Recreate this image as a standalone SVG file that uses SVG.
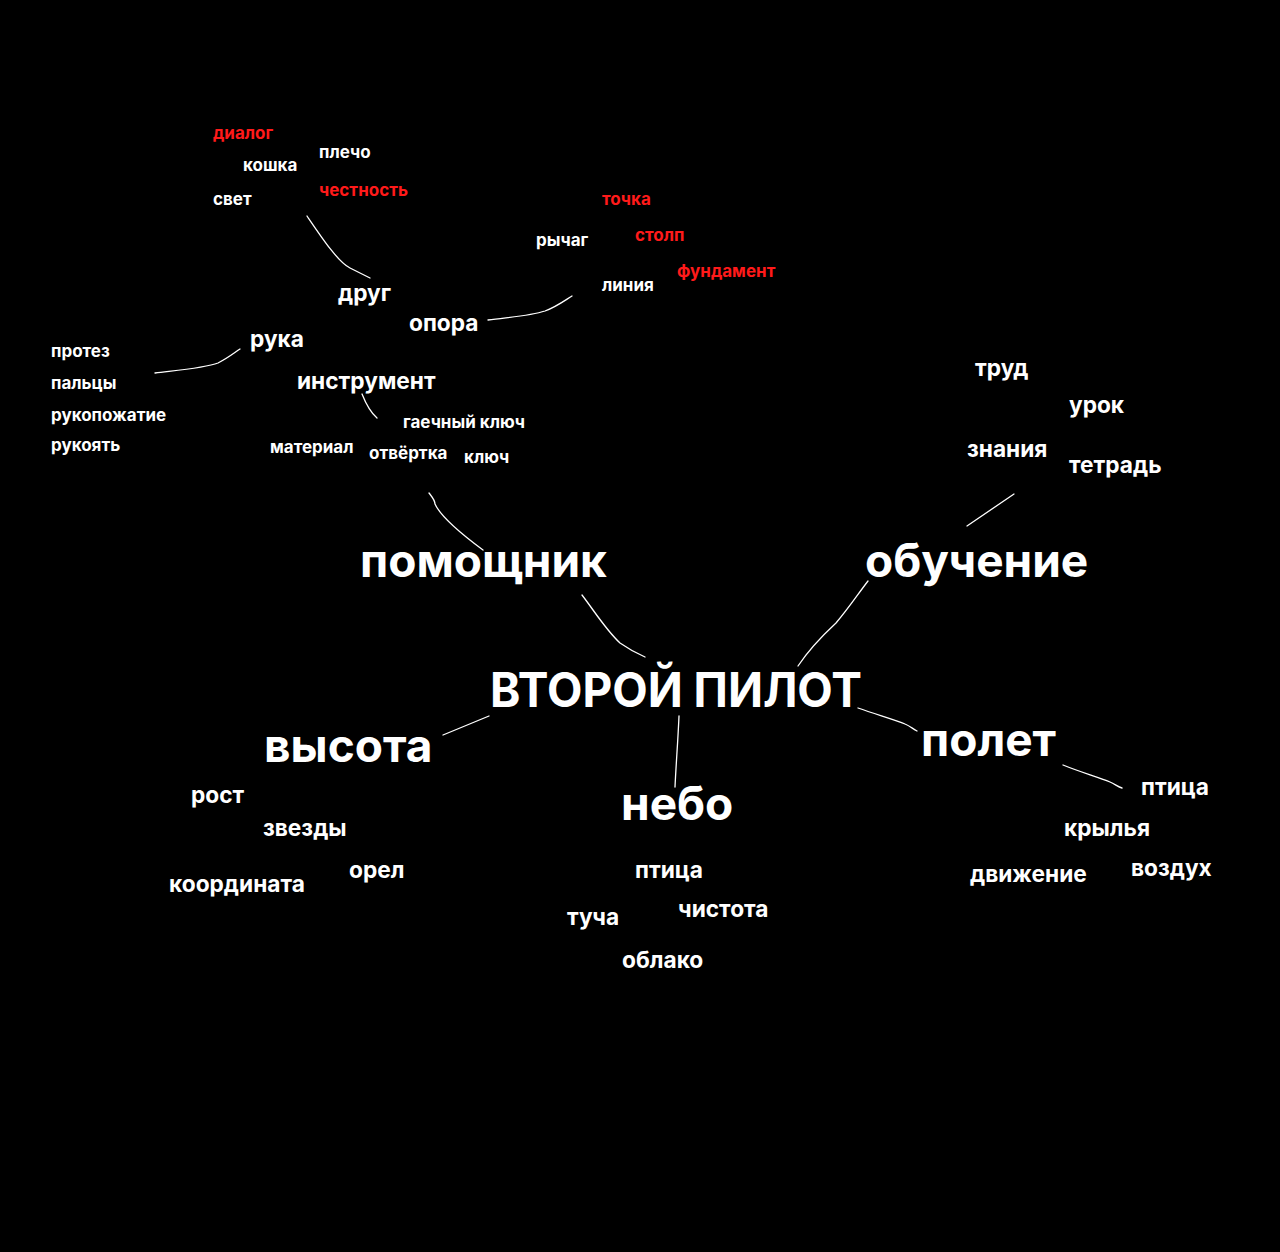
<svg xmlns="http://www.w3.org/2000/svg" width="1280" height="1252" viewBox="0 0 1280 1252">
<style>
text{font-family:Inter,"Noto Sans","Liberation Sans",sans-serif;font-weight:700;fill:#fff}
.xl{font-size:48px}
.l{font-size:46px}
.m{font-size:22.7px}
.s{font-size:17px}
.r{fill:#ff1a1a}
.c{fill:none;stroke:#fff;stroke-width:1.3;stroke-linecap:round}
</style>
<rect width="1280" height="1252" fill="#000"/>
<g id="connectors">
<path class="c" d="M307,216 C322,238 338,262 350,268 C358,272 364,275 370,278"/>
<path class="c" d="M488,320 C510,317 530,316 545,311 C556,307 564,301 572,296"/>
<path class="c" d="M155,373 C180,370 205,368 218,363 C228,358 234,353 240,349"/>
<path class="c" d="M362,394 C366,404 370,412 377,418"/>
<path class="c" d="M429,493 C432,497 435,500 435,504 C440,515 460,533 483,550"/>
<path class="c" d="M582,595 C595,612 606,630 620,643 C630,650 638,654 645,657"/>
<path class="c" d="M798,666 C810,648 822,636 836,623 C848,609 858,594 868,581"/>
<path class="c" d="M858,708 C878,715 896,720 905,724 C910,726 913,729 917,731"/>
<path class="c" d="M679,716 C678,740 676,765 675,787"/>
<path class="c" d="M443,735 L489,716"/>
<path class="c" d="M967,526 L1014,494"/>
<path class="c" d="M1063,765 C1080,772 1098,777 1110,782 C1115,784 1118,787 1122,788"/>
</g>
<g id="center"><text class="xl" x="490" y="707" textLength="372" lengthAdjust="spacingAndGlyphs">ВТОРОЙ ПИЛОТ</text></g>
<g id="pomoshnik"><text class="l" x="360" y="577">помощник</text></g>
<g id="obuchenie"><text class="l" x="865" y="577">обучение</text></g>
<g id="vysota"><text class="l" x="264" y="762">высота</text></g>
<g id="polet"><text class="l" x="921" y="756">полет</text></g>
<g id="nebo"><text class="l" x="621" y="820">небо</text></g>
<g id="drug"><text class="m" x="338" y="301">друг</text></g>
<g id="opora"><text class="m" x="409" y="331">опора</text></g>
<g id="ruka"><text class="m" x="250" y="347">рука</text></g>
<g id="instrument"><text class="m" x="297" y="389">инструмент</text></g>
<g id="trud"><text class="m" x="975" y="376">труд</text></g>
<g id="urok"><text class="m" x="1069" y="413">урок</text></g>
<g id="znaniya"><text class="m" x="967" y="457">знания</text></g>
<g id="tetrad"><text class="m" x="1069" y="473">тетрадь</text></g>
<g id="rost"><text class="m" x="191" y="803">рост</text></g>
<g id="zvezdy"><text class="m" x="263" y="836">звезды</text></g>
<g id="orel"><text class="m" x="349" y="878">орел</text></g>
<g id="koordinata"><text class="m" x="169" y="892">координата</text></g>
<g id="ptitsa-nebo"><text class="m" x="635" y="878">птица</text></g>
<g id="tucha"><text class="m" x="567" y="925">туча</text></g>
<g id="chistota"><text class="m" x="678" y="917">чистота</text></g>
<g id="oblako"><text class="m" x="622" y="968">облако</text></g>
<g id="ptitsa-polet"><text class="m" x="1141" y="795">птица</text></g>
<g id="krylya"><text class="m" x="1064" y="836">крылья</text></g>
<g id="dvizhenie"><text class="m" x="970" y="882">движение</text></g>
<g id="vozdukh"><text class="m" x="1131" y="876">воздух</text></g>
<g id="dialog"><text class="s r" x="213" y="139">диалог</text></g>
<g id="koshka"><text class="s" x="243" y="171">кошка</text></g>
<g id="plecho"><text class="s" x="319" y="158">плечо</text></g>
<g id="svet"><text class="s" x="213" y="205">свет</text></g>
<g id="chestnost"><text class="s r" x="319" y="196">честность</text></g>
<g id="tochka"><text class="s r" x="602" y="205">точка</text></g>
<g id="rychag"><text class="s" x="536" y="246">рычаг</text></g>
<g id="stolp"><text class="s r" x="635" y="241">столп</text></g>
<g id="fundament"><text class="s r" x="677" y="277">фундамент</text></g>
<g id="liniya"><text class="s" x="602" y="291">линия</text></g>
<g id="protez"><text class="s" x="51" y="357">протез</text></g>
<g id="paltsy"><text class="s" x="51" y="389">пальцы</text></g>
<g id="rukopozhatie"><text class="s" x="51" y="421">рукопожатие</text></g>
<g id="rukoyat"><text class="s" x="51" y="451">рукоять</text></g>
<g id="gaechny"><text class="s" x="403" y="428">гаечный ключ</text></g>
<g id="material"><text class="s" x="270" y="453">материал</text></g>
<g id="otvertka"><text class="s" x="369" y="459">отвёртка</text></g>
<g id="klyuch"><text class="s" x="464" y="463">ключ</text></g>
</svg>
